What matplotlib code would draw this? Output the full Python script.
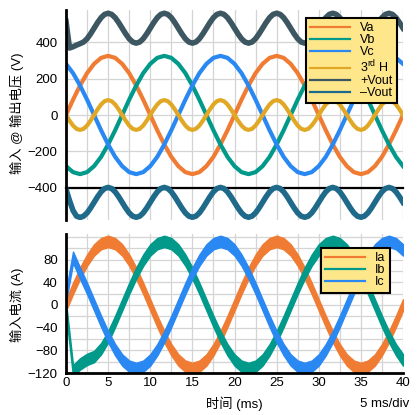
import numpy as np
import matplotlib
matplotlib.use('Agg')
import matplotlib.pyplot as plt

plt.rcParams['font.family'] = ['Liberation Sans', 'Noto Sans CJK SC']
plt.rcParams['mathtext.fontset'] = 'custom'
plt.rcParams['mathtext.rm'] = 'Liberation Sans'

######## time axes (ms)
t_fund = np.linspace(0, 40, 49)     # one sample every 0.833 ms
t_third = np.linspace(0, 40, 97)    # one sample every 0.417 ms

######## voltages (V)
va = [0, 84, 162, 230, 281, 314, 325, 314, 281, 230, 162, 84, 0, -84, -162, -230, -281, -314, -325, -314, -281, -230, -162, -84,
      0, 84, 162, 230, 281, 314, 325, 314, 281, 230, 162, 84, 0, -84, -162, -230, -281, -314, -325, -314, -281, -230, -162, -84,
      0]
vb = [-281, -314, -325, -314, -281, -230, -162, -84, 0, 84, 162, 230, 281, 314, 325, 314, 281, 230, 162, 84, 0, -84, -162, -230,
      -281, -314, -325, -314, -281, -230, -162, -84, 0, 84, 162, 230, 281, 314, 325, 314, 281, 230, 162, 84, 0, -84, -162, -230,
      -281]
vc = [281, 230, 162, 84, 0, -84, -162, -230, -281, -314, -325, -314, -281, -230, -162, -84, 0, 84, 162, 230, 281, 314, 325, 314,
      281, 230, 162, 84, 0, -84, -162, -230, -281, -314, -325, -314, -281, -230, -162, -84, 0, 84, 162, 230, 281, 314, 325, 314,
      281]
h3 = [0, -31, -58, -76, -82, -76, -58, -31, 0, 31, 58, 76, 82, 76, 58, 31,
      0, -31, -58, -76, -82, -76, -58, -31, 0, 31, 58, 76, 82, 76, 58, 31,
      0, -31, -58, -76, -82, -76, -58, -31, 0, 31, 58, 76, 82, 76, 58, 31,
      0, -31, -58, -76, -82, -76, -58, -31, 0, 31, 58, 76, 82, 76, 58, 31,
      0, -31, -58, -76, -82, -76, -58, -31, 0, 31, 58, 76, 82, 76, 58, 31,
      0, -31, -58, -76, -82, -76, -58, -31, 0, 31, 58, 76, 82, 76, 58, 31,
      0]
vout_p = [515, 368, 375, 384, 392, 401, 419, 446, 477, 508, 535, 553, 559, 553, 535, 508,
          477, 446, 419, 401, 395, 401, 419, 446, 477, 508, 535, 553, 559, 553, 535, 508,
          477, 446, 419, 401, 395, 401, 419, 446, 477, 508, 535, 553, 559, 553, 535, 508,
          477, 446, 419, 401, 395, 401, 419, 446, 477, 508, 535, 553, 559, 553, 535, 508,
          477, 446, 419, 401, 395, 401, 419, 446, 477, 508, 535, 553, 559, 553, 535, 508,
          477, 446, 419, 401, 395, 401, 419, 446, 477, 508, 535, 553, 559, 553, 535, 508,
          477]
vout_n = [-408, -470, -525, -556, -563, -556, -538, -511, -480, -449, -422, -404, -398, -404, -422, -449,
          -480, -511, -538, -556, -562, -556, -538, -511, -480, -449, -422, -404, -398, -404, -422, -449,
          -480, -511, -538, -556, -562, -556, -538, -511, -480, -449, -422, -404, -398, -404, -422, -449,
          -480, -511, -538, -556, -562, -556, -538, -511, -480, -449, -422, -404, -398, -404, -422, -449,
          -480, -511, -538, -556, -562, -556, -538, -511, -480, -449, -422, -404, -398, -404, -422, -449,
          -480, -511, -538, -556, -562, -556, -538, -511, -480, -449, -422, -404, -398, -404, -422, -449,
          -480]

######## currents (A), centre of the ripple band
ia = [0, 29, 56, 79, 97, 108, 112, 108, 97, 79, 56, 29, 0, -29, -56, -79, -97, -108, -112, -108, -97, -79, -56, -29,
      0, 29, 56, 79, 97, 108, 112, 108, 97, 79, 56, 29, 0, -29, -56, -79, -97, -108, -112, -108, -97, -79, -56, -29,
      0]
ib = [-5, -116, -104, -96, -91, -77, -56, -29, 0, 29, 56, 79, 97, 108, 112, 108, 97, 79, 56, 29, 0, -29, -56, -79,
      -97, -108, -112, -108, -97, -79, -56, -29, 0, 29, 56, 79, 97, 108, 112, 108, 97, 79, 56, 29, 0, -29, -56, -79,
      -97]
ic = [15, 84, 56, 29, 0, -29, -56, -79, -97, -108, -112, -108, -97, -79, -56, -29, 0, 29, 56, 79, 97, 108, 112, 108,
      97, 79, 56, 29, 0, -29, -56, -79, -97, -108, -112, -108, -97, -79, -56, -29, 0, 29, 56, 79, 97, 108, 112, 108,
      97]
ripple = 10   # half width of the switching ripple band (A)

c_a, c_b, c_c = '#F07C33', '#00998A', '#2A88F2'
c_h3, c_vp, c_vn = '#E1A826', '#3D5762', '#1F6A8A'
leg_face = '#FEE78B'
grid_col = '#D4D4D4'

fig = plt.figure(figsize=(4.2, 4.15), dpi=100)
ax1 = fig.add_axes([66/420, 1-220/415, 337/420, 210/415])
ax2 = fig.add_axes([66/420, 1-373/415, 337/420, 139/415])

##### voltages
ax1.plot(t_fund, va, color=c_a, lw=3, label='Va')
ax1.plot(t_fund, vb, color=c_b, lw=3, label='Vb')
ax1.plot(t_fund, vc, color=c_c, lw=3, label='Vc')
ax1.plot(t_third, h3, color=c_h3, lw=3, label='3$^{\\mathrm{rd}}$ H')
ax1.plot(t_third, vout_p, color=c_vp, lw=4, label='+Vout')
ax1.plot(t_third, vout_n, color=c_vn, lw=4, label='\u2013Vout')

ax1.set_xlim(0, 40)
ax1.set_ylim(-577, 577)
ax1.set_yticks([-400, -200, 0, 200, 400])
ax1.set_xticks(np.arange(0, 40.1, 5))
ax1.set_xticks(np.arange(0, 40.1, 2.5), minor=True)
ax1.tick_params(which='both', length=0, labelbottom=False, labelsize=9.5, pad=6)
ax1.grid(which='both', color=grid_col, lw=0.9)
ax1.spines['top'].set_visible(False)
ax1.spines['right'].set_visible(False)
ax1.spines['bottom'].set_position(('data', -400))
ax1.spines['bottom'].set_linewidth(1.6)
ax1.spines['bottom'].set_zorder(1.8)
ax1.spines['left'].set_linewidth(2)

leg1 = ax1.legend(loc='upper right', bbox_to_anchor=(0.982, 0.962), borderaxespad=0,
                  fontsize=9, labelspacing=0.0, handlelength=3.2, handletextpad=0.8,
                  borderpad=0.35, fancybox=False, framealpha=1, facecolor=leg_face, edgecolor='black')
leg1.get_frame().set_linewidth(1.5)
for h in leg1.get_lines():
    h.set_linewidth(1.6)

##### currents
for cur, col, lab in [(ia, c_a, 'Ia'), (ib, c_b, 'Ib'), (ic, c_c, 'Ic')]:
    cur = np.array(cur)
    ax2.fill_between(t_fund, cur - ripple, cur + ripple, facecolor=col, edgecolor=col, lw=1, zorder=2)
    ax2.plot([], [], color=col, lw=1.6, label=lab)

ax2.set_xlim(0, 40)
ax2.set_ylim(-120, 125)
ax2.set_yticks([-120, -80, -40, 0, 40, 80])
ax2.set_yticks(np.arange(-120, 121, 20), minor=True)
ax2.set_xticks(np.arange(0, 40.1, 5))
ax2.set_xticks(np.arange(0, 40.1, 2.5), minor=True)
ax2.tick_params(which='both', length=0, labelsize=9.5)
ax2.tick_params(axis='y', pad=6)
ax2.tick_params(axis='x', pad=3)
ax2.grid(which='both', color=grid_col, lw=0.9)
ax2.spines['top'].set_visible(False)
ax2.spines['right'].set_visible(False)
ax2.spines['bottom'].set_linewidth(2)
ax2.spines['left'].set_linewidth(2)

leg2 = ax2.legend(loc='upper right', bbox_to_anchor=(0.961, 0.899), borderaxespad=0,
                  fontsize=9, labelspacing=0.0, handlelength=3.2, handletextpad=0.8,
                  borderpad=0.35, fancybox=False, framealpha=1, facecolor=leg_face, edgecolor='black')
leg2.get_frame().set_linewidth(1.5)
for h in leg2.get_lines():
    h.set_linewidth(1.6)

##### labels
fig.text(17/420, 1-113/415, '输入 @ 输出电压 (V)', rotation=90, ha='center', va='center', fontsize=9.5)
fig.text(17/420, 1-305/415, '输入电流 (A)', rotation=90, ha='center', va='center', fontsize=9.5)
fig.text(234/420, 1-404/415, '时间 (ms)', ha='center', va='center', fontsize=9.5)
fig.text(409/420, 1-404/415, '5 ms/div', ha='right', va='center', fontsize=9.5)

fig.savefig('out.png', dpi=100)
